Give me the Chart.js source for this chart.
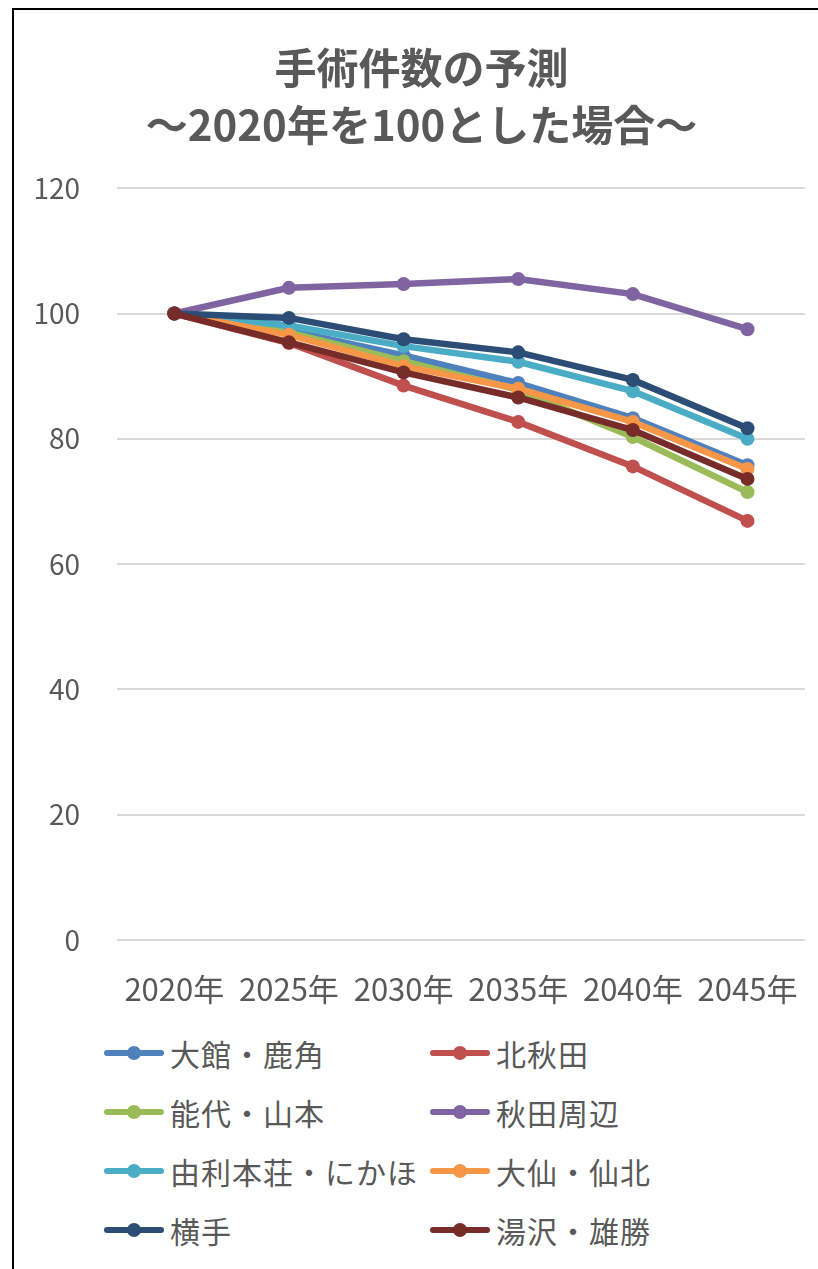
<!DOCTYPE html>
<html lang="ja">
<head>
  <meta charset="UTF-8" />
  <title>手術件数の予測</title>
  <script src="https://cdn.jsdelivr.net/npm/chart.js"></script>
  <style>
    html, body {
      margin: 0;
      padding: 0;
      background: #fff;
      width: 818px;
      height: 1269px;
      overflow: hidden;
    }
    .frame {
      position: absolute;
      left: 12px;
      top: 8px;
      width: 900px;
      height: 1400px;
      border-left: 2px solid #000;
      border-top: 2px solid #000;
    }
    .chart-box {
      position: absolute;
      left: 14px;
      top: 10px;
      width: 815px;
      height: 1000px;
    }
    .legend {
      position: absolute;
      left: 0;
      top: 0;
      font-family: "Noto Sans CJK JP", sans-serif;
      font-size: 30px;
      letter-spacing: 1px;
      color: #595959;
    }
    .legend .item {
      position: absolute;
      display: flex;
      align-items: center;
      height: 40px;
      white-space: nowrap;
    }
    .legend .sample {
      position: relative;
      width: 60px;
      height: 40px;
      margin-right: 6px;
    }
    .legend .sample .ln {
      position: absolute;
      left: 0;
      right: 0;
      top: 17px;
      height: 6px;
      border-radius: 3px;
    }
    .legend .sample .dot {
      position: absolute;
      left: 23px;
      top: 13px;
      width: 14px;
      height: 14px;
      border-radius: 50%;
    }
  </style>
</head>
<body>
  <div class="frame"></div>
  <div class="chart-box">
    <canvas id="surgeryChart"></canvas>
  </div>
  <div class="legend" id="legend"></div>

  <script>
    // data (2020 = 100)
    const years = ['2020年', '2025年', '2030年', '2035年', '2040年', '2045年'];
    const regions = ['大館・鹿角', '北秋田', '能代・山本', '秋田周辺', '由利本荘・にかほ', '大仙・仙北', '横手', '湯沢・雄勝'];
    const colors = ['#4F81BD', '#C0504D', '#9BBB59', '#8064A2', '#4BACC6', '#F79646', '#2C4D75', '#772C2A'];

    const odateKazuno   = [100, 97.3, 93.3, 88.9, 83.3, 75.8];
    const kitaAkita     = [100, 95.3, 88.5, 82.7, 75.6, 66.9];
    const noshiroYamamoto = [100, 97.0, 92.4, 87.8, 80.3, 71.5];
    const akitaArea     = [100, 104.1, 104.7, 105.5, 103.1, 97.5];
    const yurihonjo     = [100, 98.1, 94.8, 92.3, 87.6, 80.0];
    const daisen        = [100, 96.6, 91.6, 88.0, 82.7, 75.2];
    const yokote        = [100, 99.3, 95.9, 93.8, 89.4, 81.7];
    const yuzawa        = [100, 95.4, 90.6, 86.6, 81.4, 73.6];

    const yTicks = [0, 20, 40, 60, 80, 100, 120];

    const seriesValues = [odateKazuno, kitaAkita, noshiroYamamoto, akitaArea, yurihonjo, daisen, yokote, yuzawa];

    const textColor = '#595959';
    const fontFamily = '"Noto Sans CJK JP", sans-serif';

    const datasets = regions.map((name, i) => ({
      label: name,
      data: seriesValues[i],
      borderColor: colors[i],
      backgroundColor: colors[i],
      pointBackgroundColor: colors[i],
      pointBorderColor: colors[i],
      borderWidth: 6.5,
      pointRadius: 7,
      pointBorderWidth: 0,
      tension: 0,
      // later series sit on top, like the original
      order: regions.length - i
    }));

    const ctx = document.getElementById('surgeryChart').getContext('2d');
    new Chart(ctx, {
      type: 'line',
      data: { labels: years, datasets: datasets },
      options: {
        responsive: true,
        maintainAspectRatio: false,
        animation: false,
        layout: { padding: { left: 0, right: 0, top: 0, bottom: 0 } },
        plugins: {
          legend: { display: false },
          tooltip: { enabled: false },
          title: {
            display: true,
            text: ['手術件数の予測', '～2020年を100とした場合～'],
            color: textColor,
            font: { family: fontFamily, size: 42, weight: 'bold', lineHeight: 1.36 },
            padding: { top: 29, bottom: 35 }
          }
        },
        scales: {
          x: {
            offset: true,
            grid: { display: false, drawTicks: false },
            border: { display: false },
            afterFit: (scale) => { scale.height = 70; },
            ticks: {
              color: textColor,
              font: { family: fontFamily, size: 31 },
              padding: 31,
              maxRotation: 0,
              autoSkip: false
            }
          },
          y: {
            min: 0,
            max: 120,
            afterBuildTicks: (scale) => {
              scale.ticks = yTicks.map(v => ({ value: v }));
            },
            afterFit: (scale) => { scale.width = 103; },
            grid: { color: '#d9d9d9', lineWidth: 2, drawTicks: false },
            border: { display: false },
            ticks: {
              color: textColor,
              font: { family: fontFamily, size: 28 },
              padding: 37
            }
          }
        }
      }
    });

    // legend in two columns, same order as the series
    const legend = document.getElementById('legend');
    const colX = [104, 430];
    const rowY = [1053, 1112, 1171, 1230];
    regions.forEach((name, i) => {
      const item = document.createElement('div');
      item.className = 'item';
      item.style.left = colX[i % 2] + 'px';
      item.style.top = (rowY[Math.floor(i / 2)] - 20) + 'px';
      item.innerHTML =
        '<div class="sample"><div class="ln" style="background:' + colors[i] + '"></div>' +
        '<div class="dot" style="background:' + colors[i] + '"></div></div>' +
        '<span>' + name + '</span>';
      legend.appendChild(item);
    });
  </script>
</body>
</html>
